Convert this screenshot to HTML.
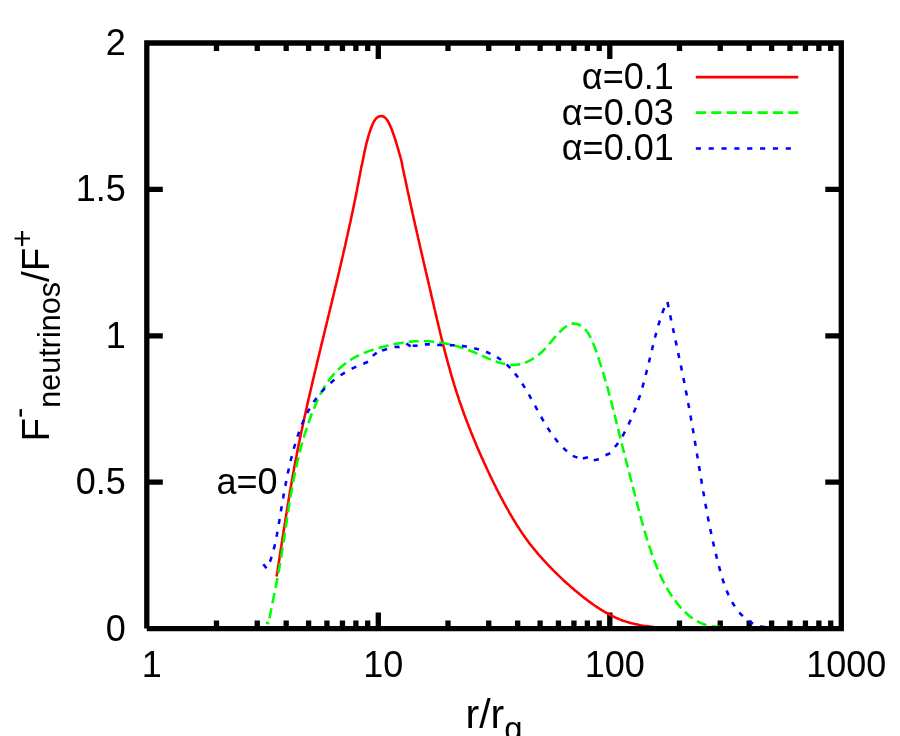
<!DOCTYPE html>
<html><head><meta charset="utf-8"><title>plot</title>
<style>html,body{margin:0;padding:0;background:#fff;}svg{display:block;will-change:transform;}text{font-family:"Liberation Sans",sans-serif;fill:#000;}</style></head><body>
<svg width="900" height="736" viewBox="0 0 900 736">
<rect width="900" height="736" fill="#fff"/>
<path d="M216.49,628.6v-8.0M216.49,43.0v8.0M257.25,628.6v-8.0M257.25,43.0v8.0M286.18,628.6v-8.0M286.18,43.0v8.0M308.61,628.6v-8.0M308.61,43.0v8.0M326.94,628.6v-8.0M326.94,43.0v8.0M342.44,628.6v-8.0M342.44,43.0v8.0M355.87,628.6v-8.0M355.87,43.0v8.0M367.71,628.6v-8.0M367.71,43.0v8.0M378.30,628.6v-16.0M378.30,43.0v16.0M447.99,628.6v-8.0M447.99,43.0v8.0M488.75,628.6v-8.0M488.75,43.0v8.0M517.68,628.6v-8.0M517.68,43.0v8.0M540.11,628.6v-8.0M540.11,43.0v8.0M558.44,628.6v-8.0M558.44,43.0v8.0M573.94,628.6v-8.0M573.94,43.0v8.0M587.37,628.6v-8.0M587.37,43.0v8.0M599.21,628.6v-8.0M599.21,43.0v8.0M609.80,628.6v-16.0M609.80,43.0v16.0M679.49,628.6v-8.0M679.49,43.0v8.0M720.25,628.6v-8.0M720.25,43.0v8.0M749.18,628.6v-8.0M749.18,43.0v8.0M771.61,628.6v-8.0M771.61,43.0v8.0M789.94,628.6v-8.0M789.94,43.0v8.0M805.44,628.6v-8.0M805.44,43.0v8.0M818.87,628.6v-8.0M818.87,43.0v8.0M830.71,628.6v-8.0M830.71,43.0v8.0M146.8,482.20h16.0M841.3,482.20h-16.0M146.8,335.80h16.0M841.3,335.80h-16.0M146.8,189.40h16.0M841.3,189.40h-16.0" stroke="#000" stroke-width="5.3" fill="none"/>
<g fill="none" stroke-width="2.57" stroke-linejoin="round">
<path d="M276.5,576.4 L276.8,575.0 L277.1,573.5 L277.3,572.0 L277.6,570.5 L277.8,569.0 L278.0,567.6 L278.3,566.1 L278.5,564.6 L278.7,563.1 L279.0,561.6 L279.2,560.1 L279.4,558.6 L279.6,557.1 L279.9,555.6 L280.1,554.1 L280.3,552.6 L280.6,551.1 L280.8,549.6 L281.0,548.2 L281.3,546.7 L281.5,545.2 L281.7,543.7 L281.9,542.2 L282.2,540.7 L282.4,539.2 L282.6,537.7 L282.9,536.3 L283.1,534.8 L283.3,533.3 L283.5,531.8 L283.8,530.3 L284.0,528.8 L284.2,527.3 L284.5,525.9 L284.7,524.4 L284.9,522.9 L285.2,521.4 L285.4,519.9 L285.6,518.4 L285.9,517.0 L286.1,515.5 L286.3,514.0 L286.6,512.5 L286.8,511.0 L287.1,509.6 L287.3,508.1 L287.5,506.6 L287.8,505.1 L288.0,503.6 L288.3,502.2 L288.5,500.7 L288.7,499.2 L289.0,497.7 L289.2,496.2 L289.5,494.8 L289.7,493.3 L290.0,491.8 L290.2,490.3 L290.5,488.9 L290.7,487.4 L291.0,485.9 L291.2,484.4 L291.5,483.0 L291.8,481.5 L292.0,480.0 L292.3,478.5 L292.5,477.1 L292.8,475.6 L293.1,474.1 L293.3,472.6 L293.6,471.2 L293.9,469.7 L294.1,468.2 L294.4,466.7 L294.7,465.3 L295.0,463.8 L295.2,462.3 L295.5,460.9 L295.8,459.4 L296.1,457.9 L296.4,456.4 L296.7,455.0 L296.9,453.5 L297.2,452.0 L297.5,450.6 L297.8,449.1 L298.1,447.6 L298.4,446.2 L298.7,444.7 L299.0,443.2 L299.3,441.8 L299.6,440.3 L299.9,438.8 L300.2,437.3 L300.5,435.9 L300.8,434.4 L301.1,432.9 L301.4,431.5 L301.8,430.0 L302.1,428.5 L302.4,427.1 L302.7,425.6 L303.0,424.1 L303.3,422.7 L303.6,421.2 L304.0,419.7 L304.3,418.3 L304.6,416.8 L304.9,415.4 L305.3,413.9 L305.6,412.4 L305.9,411.0 L306.2,409.5 L306.6,408.0 L306.9,406.6 L307.2,405.1 L307.5,403.6 L307.9,402.2 L308.2,400.7 L308.5,399.2 L308.9,397.8 L309.2,396.3 L309.6,394.9 L309.9,393.4 L310.2,391.9 L310.6,390.5 L310.9,389.0 L311.2,387.5 L311.6,386.1 L311.9,384.6 L312.3,383.2 L312.6,381.7 L313.0,380.2 L313.3,378.8 L313.6,377.3 L314.0,375.8 L314.3,374.4 L314.7,372.9 L315.0,371.5 L315.4,370.0 L315.7,368.5 L316.1,367.1 L316.4,365.6 L316.8,364.1 L317.1,362.7 L317.5,361.2 L317.8,359.8 L318.2,358.3 L318.5,356.8 L318.9,355.4 L319.2,353.9 L319.6,352.5 L319.9,351.0 L320.3,349.5 L320.6,348.1 L321.0,346.6 L321.3,345.2 L321.7,343.7 L322.1,342.2 L322.4,340.8 L322.8,339.3 L323.1,337.9 L323.5,336.4 L323.8,334.9 L324.2,333.5 L324.5,332.0 L324.9,330.6 L325.2,329.1 L325.6,327.6 L326.0,326.2 L326.3,324.7 L326.7,323.3 L327.0,321.8 L327.4,320.3 L327.7,318.9 L328.1,317.4 L328.4,315.9 L328.8,314.5 L329.1,313.0 L329.5,311.6 L329.9,310.1 L330.2,308.6 L330.6,307.2 L330.9,305.7 L331.3,304.3 L331.6,302.8 L332.0,301.3 L332.3,299.9 L332.7,298.4 L333.0,297.0 L333.4,295.5 L333.7,294.0 L334.1,292.6 L334.4,291.1 L334.8,289.7 L335.1,288.2 L335.5,286.7 L335.8,285.3 L336.2,283.8 L336.5,282.4 L336.9,280.9 L337.2,279.4 L337.6,278.0 L337.9,276.5 L338.3,275.0 L338.6,273.6 L339.0,272.1 L339.3,270.7 L339.6,269.2 L340.0,267.7 L340.3,266.3 L340.7,264.8 L341.0,263.3 L341.4,261.9 L341.7,260.4 L342.0,259.0 L342.4,257.5 L342.7,256.0 L343.1,254.6 L343.4,253.1 L343.7,251.6 L344.1,250.2 L344.4,248.7 L344.7,247.3 L345.1,245.8 L345.4,244.3 L345.7,242.9 L346.1,241.4 L346.4,239.9 L346.7,238.5 L347.0,237.0 L347.4,235.5 L347.7,234.1 L348.0,232.6 L348.3,231.1 L348.7,229.7 L349.0,228.2 L349.3,226.7 L349.6,225.3 L349.9,223.8 L350.3,222.3 L350.6,220.9 L350.9,219.4 L351.2,217.9 L351.5,216.5 L351.8,215.0 L352.1,213.5 L352.5,212.1 L352.8,210.6 L353.1,209.1 L353.4,207.7 L353.7,206.2 L354.0,204.7 L354.3,203.3 L354.6,201.8 L354.9,200.3 L355.2,198.9 L355.5,197.4 L355.8,195.9 L356.1,194.4 L356.4,193.0 L356.7,191.5 L357.0,190.0 L357.2,188.6 L357.5,187.1 L357.8,185.6 L358.1,184.1 L358.4,182.7 L358.7,181.2 L358.9,179.7 L359.2,178.3 L359.5,176.8 L359.8,175.3 L360.1,173.8 L360.3,172.4 L360.6,170.9 L360.9,169.4 L361.1,167.9 L361.4,166.5 L361.9,165.0 L362.2,163.5 L362.5,162.0 L362.8,160.5 L363.1,159.1 L363.4,157.6 L363.7,156.1 L364.0,154.6 L364.3,153.1 L364.6,151.6 L364.9,150.1 L365.2,148.7 L365.6,147.2 L365.9,145.7 L366.3,144.2 L366.6,142.8 L367.0,141.3 L367.4,139.8 L367.8,138.4 L368.2,136.9 L368.6,135.5 L369.1,134.0 L369.5,132.6 L370.0,131.1 L370.5,129.7 L371.0,128.3 L371.5,126.9 L372.1,125.4 L372.6,124.1 L373.3,122.7 L374.0,121.3 L374.9,120.0 L375.8,118.8 L376.9,117.7 L378.2,116.8 L379.6,116.3 L381.1,116.1 L382.5,116.3 L383.9,116.8 L385.1,117.7 L386.2,118.8 L387.1,120.0 L388.0,121.3 L388.7,122.6 L389.4,124.0 L390.0,125.4 L390.6,126.8 L391.2,128.2 L391.8,129.6 L392.3,131.0 L392.8,132.4 L393.3,133.9 L393.8,135.3 L394.3,136.7 L394.8,138.2 L395.3,139.6 L395.7,141.0 L396.2,142.5 L396.6,143.9 L397.0,145.4 L397.5,146.8 L397.9,148.3 L398.3,149.7 L398.7,151.2 L399.1,152.7 L399.6,154.1 L400.0,155.6 L400.4,157.0 L400.8,158.5 L401.3,160.2 L401.6,161.6 L401.9,163.1 L402.2,164.5 L402.4,166.0 L402.7,167.4 L403.0,168.9 L403.3,170.3 L403.6,171.8 L403.9,173.2 L404.2,174.7 L404.5,176.1 L404.8,177.6 L405.2,179.0 L405.5,180.5 L405.8,181.9 L406.1,183.4 L406.4,184.8 L406.7,186.3 L407.0,187.7 L407.3,189.2 L407.6,190.6 L407.9,192.1 L408.3,193.6 L408.6,195.0 L408.9,196.5 L409.2,197.9 L409.5,199.4 L409.8,200.9 L410.2,202.3 L410.5,203.8 L410.8,205.2 L411.1,206.7 L411.4,208.2 L411.8,209.6 L412.1,211.1 L412.4,212.6 L412.7,214.0 L413.1,215.5 L413.4,217.0 L413.7,218.4 L414.0,219.9 L414.4,221.3 L414.7,222.8 L415.0,224.3 L415.4,225.7 L415.7,227.2 L416.0,228.7 L416.4,230.2 L416.7,231.6 L417.0,233.1 L417.4,234.6 L417.7,236.0 L418.0,237.5 L418.4,239.0 L418.7,240.4 L419.0,241.9 L419.4,243.4 L419.7,244.8 L420.0,246.3 L420.4,247.8 L420.7,249.3 L421.1,250.7 L421.4,252.2 L421.7,253.7 L422.1,255.1 L422.4,256.6 L422.8,258.1 L423.1,259.6 L423.4,261.0 L423.8,262.5 L424.1,264.0 L424.5,265.4 L424.8,266.9 L425.1,268.4 L425.5,269.9 L425.8,271.3 L426.2,272.8 L426.5,274.3 L426.8,275.7 L427.2,277.2 L427.5,278.7 L427.9,280.2 L428.2,281.6 L428.6,283.1 L428.9,284.6 L429.2,286.0 L429.6,287.5 L429.9,289.0 L430.3,290.4 L430.6,291.9 L431.0,293.4 L431.3,294.9 L431.6,296.3 L432.0,297.8 L432.3,299.3 L432.7,300.7 L433.0,302.2 L433.4,303.7 L433.7,305.1 L434.0,306.6 L434.4,308.1 L434.7,309.5 L435.1,311.0 L435.4,312.5 L435.8,313.9 L436.1,315.4 L436.4,316.9 L436.8,318.3 L437.1,319.8 L437.5,321.3 L437.8,322.7 L438.2,324.2 L438.5,325.6 L438.9,327.1 L439.2,328.6 L439.6,330.0 L439.9,331.5 L440.3,332.9 L440.6,334.4 L441.0,335.9 L441.3,337.3 L441.7,338.8 L442.1,340.2 L442.4,341.7 L442.8,343.1 L443.1,344.6 L443.5,346.1 L443.9,347.5 L444.3,349.0 L444.6,350.4 L445.0,351.9 L445.4,353.3 L445.8,354.8 L446.1,356.2 L446.5,357.7 L446.9,359.1 L447.3,360.6 L447.7,362.0 L448.1,363.5 L448.5,364.9 L448.9,366.3 L449.3,367.8 L449.7,369.2 L450.1,370.7 L450.5,372.1 L450.9,373.6 L451.3,375.0 L451.7,376.4 L452.2,377.9 L452.6,379.3 L453.0,380.8 L453.5,382.2 L453.9,383.6 L454.3,385.1 L454.8,386.5 L455.2,387.9 L455.7,389.4 L456.1,390.8 L456.6,392.2 L457.0,393.6 L457.5,395.1 L458.0,396.5 L458.5,397.9 L458.9,399.3 L459.4,400.8 L459.9,402.2 L460.4,403.6 L460.9,405.0 L461.4,406.4 L461.9,407.9 L462.4,409.3 L462.9,410.7 L463.4,412.1 L463.9,413.5 L464.4,414.9 L465.0,416.3 L465.5,417.8 L466.0,419.2 L466.5,420.6 L467.1,422.0 L467.6,423.4 L468.2,424.8 L468.7,426.2 L469.2,427.6 L469.8,429.0 L470.4,430.4 L470.9,431.8 L471.5,433.2 L472.0,434.6 L472.6,436.0 L473.2,437.4 L473.7,438.7 L474.3,440.1 L474.9,441.5 L475.5,442.9 L476.1,444.3 L476.6,445.7 L477.2,447.1 L477.8,448.4 L478.4,449.8 L479.0,451.2 L479.6,452.6 L480.2,453.9 L480.8,455.3 L481.4,456.7 L482.0,458.1 L482.7,459.4 L483.3,460.8 L483.9,462.2 L484.5,463.5 L485.1,464.9 L485.8,466.2 L486.4,467.6 L487.0,469.0 L487.7,470.3 L488.3,471.7 L488.9,473.0 L489.6,474.4 L490.2,475.7 L490.9,477.1 L491.5,478.4 L492.2,479.8 L492.8,481.1 L493.5,482.5 L494.1,483.8 L494.8,485.1 L495.5,486.5 L496.1,487.8 L496.8,489.1 L497.5,490.5 L498.2,491.8 L498.8,493.1 L499.5,494.4 L500.2,495.8 L500.9,497.1 L501.6,498.4 L502.3,499.7 L503.0,501.0 L503.7,502.4 L504.4,503.7 L505.2,505.0 L505.9,506.3 L506.6,507.6 L507.3,508.9 L508.1,510.2 L508.8,511.5 L509.5,512.8 L510.3,514.1 L511.0,515.4 L511.8,516.7 L512.5,518.0 L513.3,519.2 L514.1,520.5 L514.9,521.8 L515.7,523.1 L516.4,524.3 L517.2,525.6 L518.0,526.9 L518.9,528.1 L519.7,529.4 L520.5,530.6 L521.3,531.9 L522.2,533.1 L523.0,534.4 L523.9,535.6 L524.8,536.9 L525.6,538.1 L526.5,539.3 L527.4,540.5 L528.3,541.7 L529.2,542.9 L530.1,544.2 L531.1,545.4 L532.0,546.5 L533.0,547.7 L533.9,548.9 L534.9,550.1 L535.9,551.3 L536.8,552.4 L537.8,553.6 L538.8,554.8 L539.8,555.9 L540.9,557.1 L541.9,558.2 L542.9,559.3 L543.9,560.5 L545.0,561.6 L546.0,562.7 L547.0,563.8 L548.1,564.9 L549.1,566.0 L550.2,567.1 L551.2,568.2 L552.3,569.2 L553.3,570.3 L554.4,571.4 L555.4,572.4 L556.5,573.5 L557.6,574.5 L558.6,575.6 L559.7,576.6 L560.8,577.6 L561.8,578.6 L562.9,579.7 L564.0,580.7 L565.1,581.7 L566.2,582.7 L567.3,583.7 L568.4,584.6 L569.5,585.6 L570.6,586.6 L571.7,587.6 L572.9,588.5 L574.0,589.5 L575.1,590.5 L576.3,591.4 L577.4,592.4 L578.6,593.3 L579.7,594.3 L580.9,595.2 L582.1,596.1 L583.2,597.1 L584.4,598.0 L585.6,598.9 L586.8,599.8 L588.0,600.7 L589.2,601.6 L590.5,602.5 L591.7,603.4 L592.9,604.3 L594.2,605.2 L595.4,606.0 L596.7,606.9 L597.9,607.7 L599.2,608.5 L600.5,609.4 L601.8,610.2 L603.0,610.9 L604.3,611.7 L605.6,612.5 L607.0,613.2 L608.3,613.9 L609.6,614.6 L610.9,615.3 L612.3,616.0 L613.6,616.7 L615.0,617.3 L616.3,617.9 L617.7,618.5 L619.1,619.1 L620.4,619.6 L621.8,620.2 L623.2,620.7 L624.6,621.1 L626.0,621.6 L627.5,622.1 L628.9,622.5 L630.3,622.9 L631.7,623.3 L633.2,623.6 L634.6,624.0 L636.1,624.3 L637.6,624.6 L639.0,624.9 L640.5,625.2 L642.0,625.4 L643.5,625.7 L645.0,625.9 L646.5,626.1 L648.0,626.3 L649.6,626.5 L651.1,626.7 L652.6,626.8 L654.0,627.4" stroke="#f00"/>
<g stroke="#0f0">
<path d="M266.0,622.6 L268.7,623.3 L268.8,621.6 L269.1,620.1 L269.4,618.7 L269.7,617.3 L269.9,615.8 L270.2,614.4 L270.5,612.9 L270.8,611.5 L271.1,610.0 L271.4,608.6 L271.7,607.1 L271.9,605.7 L272.2,604.2 L272.5,602.8 L272.8,601.3 L273.1,599.8 L273.4,598.4 L273.7,596.9 L274.0,595.4 L274.3,594.0 L274.6,592.5 L274.9,591.0 L275.2,589.6 L275.5,588.1 L275.8,586.6 L276.1,585.2 L276.3,583.7 L276.6,582.2 L276.9,580.7 L277.2,579.3 L277.5,577.8 L277.8,576.3 L278.0,574.8 L278.3,573.3 L278.6,571.9 L278.9,570.4 L279.1,568.9 L279.4,567.4 L279.7,565.9 L279.9,564.4 L280.2,562.9 L280.4,561.5 L280.6,560.3" stroke-dasharray="10.300 5.100" stroke-dashoffset="7.500"/>
<path d="M280.6,560.3 L280.7,560.0 L280.9,558.5 L281.2,557.0 L281.4,555.5 L281.6,554.0 L281.9,552.5 L282.1,551.0 L282.4,549.5 L282.6,548.1 L282.8,546.6 L283.1,545.1 L283.3,543.6 L283.5,542.1 L283.7,540.6 L284.0,539.1 L284.2,537.6 L284.4,536.1 L284.6,534.6 L284.9,533.1 L285.1,531.6 L285.3,530.1 L285.5,528.6 L285.8,527.1 L286.0,525.7 L286.2,524.2 L286.4,522.7 L286.7,521.2 L286.9,519.7 L287.1,518.2 L287.3,516.7 L287.6,515.2 L287.8,513.7 L288.0,512.2 L288.3,510.7 L288.5,509.2 L288.7,507.8 L289.0,506.3 L289.2,504.8 L289.4,503.3 L289.7,501.8 L289.9,500.3 L290.2,498.8 L290.4,497.3 L290.7,495.9 L290.9,494.4 L291.2,492.9 L291.5,491.4 L291.7,489.9 L292.0,488.4 L292.2,487.0 L292.5,485.5 L292.8,484.0 L293.1,482.5 L293.4,481.1 L293.6,479.6 L293.9,478.1 L294.2,476.6 L294.5,475.2 L294.8,473.7 L295.1,472.2 L295.4,470.8 L295.7,469.3 L296.0,467.8 L296.4,466.4 L296.7,464.9 L297.0,463.4 L297.3,462.0 L297.7,460.5 L298.0,459.1 L298.4,457.6 L298.7,456.2 L299.1,454.7 L299.4,453.2 L299.8,451.8 L300.2,450.4 L300.6,448.9 L300.9,447.5 L301.3,446.0 L301.7,444.6 L302.1,443.1 L302.5,441.7 L302.9,440.3 L303.3,438.8 L303.8,437.4 L304.2,436.0 L304.6,434.6 L305.1,433.1 L305.5,431.7 L306.0,430.3 L306.4,428.9 L306.9,427.5 L307.4,426.0 L307.9,424.6 L308.4,423.2 L308.9,421.8 L309.4,420.4 L309.9,419.0 L310.4,417.6 L310.9,416.2 L311.4,414.8 L312.0,413.4 L312.5,412.0 L313.1,410.7 L313.6,409.3 L314.2,407.9 L314.8,406.5 L315.4,405.1 L316.0,403.8 L316.6,402.4 L317.2,401.0 L317.8,399.7 L318.5,398.3 L319.1,397.0" stroke-dasharray="10.237 5.069" stroke-dashoffset="-2.534"/>
<path d="M319.1,397.0 L319.1,396.9 L319.8,395.6 L320.4,394.3 L321.1,392.9 L321.8,391.6 L322.6,390.3 L323.3,389.0 L324.0,387.7 L324.8,386.4 L325.6,385.1 L326.4,383.9 L327.3,382.6 L328.1,381.4 L329.0,380.1 L329.9,378.9 L330.8,377.7 L331.8,376.6 L332.8,375.4 L333.8,374.2 L334.8,373.1 L335.8,372.0 L336.9,370.9 L338.0,369.8 L339.1,368.8 L340.3,367.7 L341.4,366.7 L342.6,365.7 L343.8,364.8 L345.0,363.8 L346.2,362.9 L347.5,362.0 L348.7,361.1 L350.0,360.3 L351.3,359.5 L352.6,358.7 L353.9,357.9 L355.2,357.2 L356.5,356.5 L357.8,355.8 L359.2,355.1 L360.5,354.5 L361.5,354.0" stroke-dasharray="10.322 5.111" stroke-dashoffset="-2.555"/>
<path d="M361.5,354.0 L361.9,353.9 L363.2,353.3 L364.6,352.7 L366.0,352.2 L367.4,351.6 L368.8,351.1 L370.2,350.6 L371.6,350.2 L373.0,349.7 L374.4,349.3 L375.9,348.8 L377.3,348.4 L378.8,348.0 L380.2,347.6 L381.6,347.2 L383.1,346.8 L384.6,346.4 L386.0,346.1 L387.5,345.7 L389.0,345.4 L390.4,345.0 L391.9,344.7 L393.4,344.4 L394.9,344.1 L396.4,343.8 L397.8,343.5 L399.3,343.2 L400.8,343.0 L402.3,342.7 L403.8,342.5 L405.3,342.3 L406.1,342.2" stroke-dasharray="10.331 5.115" stroke-dashoffset="-2.558"/>
<path d="M406.1,342.2 L406.8,342.1 L408.3,341.9 L409.8,341.8 L411.3,341.6 L412.8,341.5 L414.3,341.4 L415.7,341.3 L417.2,341.2 L418.7,341.2 L420.2,341.1 L421.7,341.1 L423.2,341.1 L424.7,341.2 L426.1,341.2 L427.6,341.3 L429.1,341.4 L430.6,341.4 L432.1,341.6 L433.5,341.7 L435.0,341.9 L436.5,342.0 L437.9,342.2 L439.4,342.4 L440.9,342.6 L442.4,342.9 L443.8,343.1 L445.3,343.4 L446.7,343.7 L448.2,344.0 L449.7,344.3 L451.1,344.7 L451.7,344.8" stroke-dasharray="10.236 5.068" stroke-dashoffset="-2.534"/>
<path d="M451.7,344.8 L452.6,345.0 L454.0,345.4 L455.5,345.8 L456.9,346.2 L458.4,346.6 L459.8,347.1 L461.3,347.5 L462.7,348.0 L464.2,348.5 L465.6,349.0 L467.0,349.5 L468.5,350.0 L469.9,350.6 L471.3,351.2 L472.8,351.7 L474.2,352.3 L475.6,352.9 L477.0,353.6 L478.5,354.2 L479.9,354.8 L481.3,355.4 L482.7,356.1 L484.2,356.7 L485.6,357.3 L487.0,357.9 L488.4,358.6 L489.8,359.1 L491.2,359.7 L492.6,360.3 L493.3,360.5" stroke-dasharray="9.931 4.917" stroke-dashoffset="-2.459"/>
<path d="M493.3,360.5 L494.1,360.8 L495.5,361.3 L496.9,361.8 L498.3,362.3 L499.7,362.7 L501.1,363.1 L502.5,363.5 L504.0,363.8 L505.4,364.1 L506.8,364.4 L508.2,364.6 L509.6,364.7 L511.0,364.8 L512.5,364.9 L513.9,364.9 L515.3,364.8 L516.7,364.7 L518.1,364.5 L519.6,364.2 L521.0,363.9 L522.4,363.5 L523.8,363.1 L525.3,362.6 L526.7,362.0 L528.1,361.4 L529.5,360.7 L530.8,360.0 L532.2,359.2 L533.5,358.4 L534.8,357.6 L536.0,356.8" stroke-dasharray="10.052 4.977" stroke-dashoffset="-2.489"/>
<path d="M536.0,356.8 L536.1,356.7 L537.4,355.8 L538.6,354.8 L539.8,353.8 L541.0,352.8 L542.1,351.8 L543.2,350.7 L544.3,349.6 L545.3,348.5 L546.3,347.4 L547.3,346.3 L548.3,345.2 L549.2,344.0 L550.2,342.9 L551.1,341.7 L552.0,340.6 L553.0,339.5 L553.9,338.3 L554.9,337.2 L555.8,336.1 L556.8,335.0 L557.6,334.1" stroke-dasharray="10.515 5.207" stroke-dashoffset="-2.603"/>
<path d="M557.6,334.1 L557.8,333.9 L558.9,332.8 L560.0,331.7 L561.1,330.7 L562.2,329.6 L563.4,328.6 L564.7,327.6 L565.9,326.7 L567.3,325.8 L568.6,325.1 L570.0,324.4 L571.4,324.0 L572.8,323.6 L574.2,323.5 L575.7,323.7 L577.1,324.0 L578.5,324.5 L579.8,325.1 L581.1,325.9 L582.3,326.7 L583.1,327.4" stroke-dasharray="10.023 4.963" stroke-dashoffset="-2.481"/>
<path d="M583.1,327.4 L583.4,327.6 L584.5,328.6 L585.5,329.7 L586.4,330.8 L587.3,332.0 L588.2,333.2 L589.0,334.5 L589.7,335.8 L590.4,337.1 L591.1,338.5 L591.7,339.9 L592.4,341.4 L592.9,342.8 L593.5,344.3 L594.1,345.7 L594.6,347.2 L595.1,348.6 L595.7,350.1 L596.2,351.5 L596.7,353.0 L597.2,354.4 L597.7,355.9 L598.2,357.3 L598.7,358.7 L599.2,360.1 L599.6,361.6 L600.1,363.0 L600.6,364.4 L601.0,365.8 L601.5,367.3 L601.9,368.7 L602.2,369.6" stroke-dasharray="10.457 5.178" stroke-dashoffset="-2.589"/>
<path d="M602.2,369.6 L602.4,370.1 L602.8,371.5 L603.2,372.9 L603.7,374.4 L604.1,375.8 L604.5,377.2 L604.9,378.6 L605.3,380.1 L605.7,381.5 L606.2,382.9 L606.6,384.4 L607.0,385.8 L607.4,387.2 L607.8,388.7 L608.2,390.1 L608.5,391.6 L608.9,393.0 L609.3,394.5 L609.7,395.9 L610.1,397.4 L610.5,398.8 L610.8,400.3 L611.2,401.7 L611.6,403.2 L612.0,404.6 L612.3,406.1 L612.7,407.5 L613.1,409.0 L613.5,410.4 L613.8,411.9 L614.2,413.4 L614.6,414.8 L614.9,416.3 L615.3,417.7 L615.7,419.2 L616.0,420.7 L616.4,422.1 L616.7,423.6 L617.1,425.0 L617.5,426.5 L617.8,428.0 L618.2,429.4 L618.6,430.9 L618.9,432.4 L619.3,433.8 L619.7,435.3 L620.0,436.7 L620.4,438.2 L620.8,439.7 L621.1,440.9" stroke-dasharray="9.864 4.884" stroke-dashoffset="-2.442"/>
<path d="M621.1,440.9 L621.1,441.1 L621.5,442.6 L621.9,444.1 L622.2,445.5 L622.6,447.0 L623.0,448.4 L623.3,449.9 L623.7,451.4 L624.1,452.8 L624.4,454.3 L624.8,455.7 L625.2,457.2 L625.6,458.6 L625.9,460.1 L626.3,461.6 L626.7,463.0 L627.1,464.5 L627.4,465.9 L627.8,467.4 L628.2,468.9 L628.6,470.3 L628.9,471.8 L629.3,473.2 L629.7,474.7 L630.1,476.1 L630.4,477.6 L630.8,479.0 L631.2,480.5 L631.5,481.9 L631.9,483.4 L632.3,484.9 L632.7,486.3 L633.0,487.8 L633.4,489.2 L633.8,490.7 L634.2,492.1 L634.5,493.6 L634.9,495.0 L635.3,496.5 L635.7,497.9 L636.0,499.4 L636.4,500.8 L636.8,502.3 L637.1,503.7 L637.5,505.2 L637.9,506.6 L638.3,508.0 L638.7,509.5 L639.0,510.9 L639.4,512.4 L639.7,513.4" stroke-dasharray="10.015 4.959" stroke-dashoffset="-2.480"/>
<path d="M639.7,513.4 L639.8,513.8 L640.2,515.3 L640.6,516.7 L641.0,518.2 L641.4,519.6 L641.8,521.0 L642.2,522.5 L642.6,523.9 L643.0,525.4 L643.4,526.8 L643.8,528.3 L644.2,529.7 L644.6,531.1 L645.1,532.6 L645.5,534.0 L645.9,535.4 L646.4,536.9 L646.8,538.3 L647.2,539.8 L647.7,541.2 L648.1,542.6 L648.6,544.1 L649.1,545.5 L649.5,546.9 L650.0,548.4 L650.5,549.8 L651.0,551.2 L651.4,552.7 L651.9,554.1 L652.4,555.5 L653.0,556.9 L653.5,558.4 L654.0,559.8 L654.5,561.2 L655.1,562.6 L655.6,564.0 L656.2,565.5 L656.7,566.9 L657.3,568.3 L657.9,569.7 L658.5,571.1 L659.1,572.4 L659.7,573.8 L660.3,575.2 L660.9,576.6 L661.6,577.9 L662.2,579.3 L662.9,580.7 L663.6,582.0 L664.3,583.3 L665.0,584.7 L665.5,585.6" stroke-dasharray="10.275 5.088" stroke-dashoffset="-2.544"/>
<path d="M665.5,585.6 L665.7,586.0 L666.4,587.3 L667.2,588.6 L667.9,589.9 L668.7,591.2 L669.5,592.5 L670.3,593.7 L671.1,595.0 L671.9,596.2 L672.8,597.5 L673.6,598.7 L674.5,599.9 L675.4,601.1 L676.3,602.3 L677.2,603.4 L678.2,604.6 L679.1,605.8 L680.1,606.9 L681.1,608.0 L682.1,609.1 L683.1,610.2 L684.2,611.2 L685.3,612.3 L686.4,613.3 L687.5,614.3 L688.6,615.3 L689.7,616.2 L690.9,617.1 L692.1,618.0 L693.3,618.8 L694.6,619.6 L694.8,619.8" stroke-dasharray="10.144 5.023" stroke-dashoffset="-2.511"/>
<path d="M694.8,619.8 L695.8,620.4 L697.1,621.1 L698.4,621.8 L699.7,622.5 L701.1,623.1 L702.4,623.7 L703.8,624.2 L705.3,624.7 L706.7,625.1 L708.2,625.5 L709.7,625.8 L711.2,626.1 L712.7,626.4 L714.3,626.5 L715.9,626.6 L717.5,626.7 L719.1,626.7 L720.5,627.0" stroke-dasharray="10.300 5.100" stroke-dashoffset="-2.550"/>
</g>
<g stroke="#00f">
<path d="M263.3,564.2 L266.7,568.4 L267.7,567.1 L268.3,565.7 L268.9,564.3 L269.4,562.9 L270.0,561.5 L270.5,560.1 L271.0,558.7 L271.4,557.3 L271.9,555.9 L272.3,554.4 L272.7,553.0 L273.1,551.6 L273.5,550.2 L273.9,548.7 L274.2,547.3 L274.6,545.8 L274.9,544.4 L275.2,543.0 L275.5,541.5 L275.8,540.1 L276.1,538.6 L276.4,537.1 L276.7,535.7 L277.0,534.2 L277.2,532.8 L277.5,531.3 L277.8,529.8 L278.0,528.4 L278.3,526.9 L278.5,525.4 L278.8,523.9 L279.0,522.5 L279.3,521.0 L279.5,519.5 L279.8,518.0 L280.0,516.5 L280.3,515.1 L280.5,513.6 L280.8,512.1 L281.0,510.6 L281.3,509.1 L281.5,507.6 L281.8,506.1 L282.0,504.6 L282.3,503.2 L282.5,501.7 L282.8,500.2 L283.0,498.7 L283.3,497.2 L283.5,495.7 L283.8,494.2 L284.1,492.7 L284.3,491.2 L284.6,489.7 L284.6,489.7" stroke-dasharray="5.163 7.745" stroke-dashoffset="0.000"/>
<path d="M284.6,489.7 L284.9,488.2 L285.2,486.7 L285.5,485.2 L285.7,483.8 L286.0,482.3 L286.3,480.8 L286.6,479.3 L286.9,477.8 L287.2,476.3 L287.5,474.8 L287.8,473.3 L288.1,471.8 L288.5,470.4 L288.8,468.9 L289.1,467.4 L289.5,465.9 L289.8,464.4 L290.1,463.0 L290.5,461.5 L290.8,460.0 L291.2,458.5 L291.6,457.1 L292.0,455.6 L292.3,454.1 L292.7,452.7 L293.1,451.2 L293.5,449.8 L293.9,448.3 L294.3,446.9 L294.8,445.4 L295.2,444.0 L295.6,442.5 L296.1,441.1 L296.5,439.6 L297.0,438.2 L297.4,436.8 L297.9,435.3 L298.4,433.9 L298.9,432.5 L299.4,431.1 L299.9,429.7 L300.4,428.3 L301.0,426.9 L301.5,425.5 L302.1,424.1 L302.7,422.7 L303.3,421.4 L303.9,420.0 L304.5,418.7 L305.1,417.3 L305.7,416.0 L306.4,414.7 L307.1,413.3 L307.7,412.0 L308.4,410.7 L309.2,409.4 L309.9,408.2 L310.6,406.9 L311.4,405.6 L311.6,405.3" stroke-dasharray="5.093 7.639" stroke-dashoffset="-3.819"/>
<path d="M311.6,405.3 L312.2,404.4 L313.0,403.1 L313.8,401.9 L314.6,400.7 L315.5,399.5 L316.3,398.3 L317.2,397.1 L318.1,395.9 L319.0,394.8 L320.0,393.6 L321.0,392.5 L321.9,391.4 L323.0,390.3 L324.0,389.2 L325.0,388.1 L326.1,387.0 L327.2,386.0 L328.3,385.0 L329.4,383.9 L330.6,382.9 L331.7,382.0 L332.9,381.0 L334.1,380.0 L335.3,379.1 L336.5,378.2 L337.7,377.3 L339.0,376.4 L340.3,375.5 L341.5,374.7 L342.8,373.9 L344.1,373.1 L345.4,372.3 L346.7,371.5 L348.1,370.7 L348.3,370.6" stroke-dasharray="5.099 7.648" stroke-dashoffset="-3.824"/>
<path d="M348.3,370.6 L349.4,370.0 L350.8,369.3 L352.1,368.6 L353.5,367.9 L354.8,367.3 L356.2,366.6 L357.6,366.0 L359.0,365.4 L360.4,364.9 L361.8,364.3 L363.1,363.9 L368.1,361.7 L370.4,358.8" stroke-dasharray="5.094 7.640" stroke-dashoffset="-3.820"/>
<path d="M370.4,358.8 L372.5,356.1 L376.9,352.5 L378.6,351.0 L378.9,352.3" stroke-dasharray="5.078 7.617" stroke-dashoffset="-3.809"/>
<path d="M378.9,352.3 L379.0,352.6 L382.2,350.4 L387.2,348.9 L390.9,347.9" stroke-dasharray="5.307 7.960" stroke-dashoffset="-3.980"/>
<path d="M390.9,347.9 L393.9,347.1 L399.4,346.9 L402.8,345.1" stroke-dasharray="4.975 7.462" stroke-dashoffset="-3.731"/>
<path d="M402.8,345.1 L406.0,343.3 L411.1,346.7 L413.6,348.3 L413.3,347.9" stroke-dasharray="5.312 7.968" stroke-dashoffset="-3.984"/>
<path d="M413.3,347.9 L411.7,345.7 L418.0,345.7 L419.5,345.2 L421.0,344.9 L421.2,344.9" stroke-dasharray="4.922 7.384" stroke-dashoffset="-3.692"/>
<path d="M421.2,344.9 L422.4,344.7 L423.9,344.5 L425.3,344.4 L426.8,344.4 L428.3,344.4 L429.7,344.4 L431.2,344.5 L432.7,344.6 L433.5,344.6" stroke-dasharray="4.954 7.431" stroke-dashoffset="-3.715"/>
<path d="M433.5,344.6 L434.2,344.7 L435.7,344.8 L437.2,344.9 L438.7,345.0 L440.2,345.0 L441.8,345.1 L443.3,345.1 L444.8,345.1 L446.3,345.1 L447.9,345.1 L449.4,345.1 L450.9,345.1 L452.5,345.2 L454.0,345.2 L455.5,345.3 L457.0,345.4 L458.6,345.6 L460.1,345.7 L461.6,345.9 L463.1,346.1 L464.6,346.3 L466.1,346.6 L467.6,346.9 L469.1,347.1 L470.6,347.4 L472.1,347.8 L473.6,348.1 L475.0,348.5 L476.5,348.8 L477.9,349.2 L479.4,349.6 L480.8,350.1 L482.2,350.5 L482.5,350.6" stroke-dasharray="4.962 7.443" stroke-dashoffset="-3.721"/>
<path d="M482.5,350.6 L483.6,351.0 L485.0,351.5 L486.4,352.0 L487.8,352.5 L489.1,353.1 L490.5,353.7 L491.8,354.3 L493.1,354.9 L494.4,355.6 L495.7,356.3 L497.0,357.1 L498.2,357.9 L499.4,358.7 L500.6,359.5 L501.8,360.4 L503.0,361.4 L504.2,362.3 L505.3,363.3 L506.4,364.3 L507.5,365.3 L508.6,366.4 L509.7,367.5 L510.7,368.6 L511.7,369.7 L512.7,370.9 L513.7,372.0 L514.7,373.2 L515.6,374.4 L516.6,375.6 L517.5,376.8 L518.4,378.0 L519.3,379.3 L520.1,380.5" stroke-dasharray="4.903 7.355" stroke-dashoffset="-3.678"/>
<path d="M520.1,380.5 L520.2,380.5 L521.0,381.8 L521.8,383.0 L522.7,384.3 L523.5,385.6 L524.3,386.8 L525.1,388.1 L525.9,389.4 L526.6,390.7 L527.4,392.0 L528.2,393.3 L528.9,394.6 L529.7,395.9 L530.4,397.3 L531.1,398.6 L531.9,399.9 L532.6,401.2 L533.3,402.5 L534.0,403.9 L534.7,405.2 L535.5,406.5 L536.2,407.8 L536.9,409.2 L537.6,410.5 L538.3,411.8 L539.1,413.1 L539.8,414.5 L540.5,415.8 L541.3,417.1 L542.0,418.4 L542.7,419.7 L543.5,421.0 L544.3,422.3 L545.0,423.6 L545.8,424.9 L546.6,426.1 L547.4,427.4 L548.2,428.7 L549.0,429.9 L549.8,431.2 L550.7,432.4 L551.5,433.6 L552.4,434.8 L553.3,436.0 L554.2,437.2 L555.1,438.4 L556.0,439.6 L556.9,440.8 L557.9,441.9 L558.9,443.0 L559.9,444.2 L560.7,445.1" stroke-dasharray="5.093 7.639" stroke-dashoffset="-3.819"/>
<path d="M560.7,445.1 L560.9,445.3 L561.9,446.4 L563.0,447.5 L564.0,448.5 L565.1,449.6 L566.2,450.6 L567.4,451.6 L568.5,452.6 L569.7,453.6 L570.9,454.6 L571.9,455.6 L577.8,457.8 L580.6,459.5" stroke-dasharray="5.007 7.511" stroke-dashoffset="-3.755"/>
<path d="M580.6,459.5 L582.2,460.5 L582.8,458.6 L588.3,457.2 L590.9,456.5 L591.4,457.3" stroke-dasharray="5.257 7.886" stroke-dashoffset="-3.943"/>
<path d="M591.4,457.3 L593.6,460.3 L599.2,459.2 L602.2,457.3" stroke-dasharray="5.203 7.804" stroke-dashoffset="-3.902"/>
<path d="M602.2,457.3 L605.3,455.3 L610.6,453.1 L611.2,452.0 L612.0,450.8 L612.5,450.2" stroke-dasharray="5.163 7.744" stroke-dashoffset="-3.872"/>
<path d="M612.5,450.2 L612.9,449.5 L613.9,448.3 L614.9,447.1 L615.9,445.8 L616.9,444.6 L617.9,443.3 L618.8,442.1 L619.7,440.8 L620.5,439.5 L621.3,438.2 L622.1,436.9 L622.8,435.6 L623.5,434.3 L624.2,433.0 L624.9,431.7 L625.6,430.4 L626.3,429.0 L626.9,427.7 L627.6,426.4 L628.3,425.0 L628.9,423.7 L629.5,422.3 L630.2,420.9 L630.8,419.6 L631.4,418.2 L632.0,416.8 L632.6,415.4 L633.2,414.1 L633.7,412.7 L634.3,411.3 L634.8,409.9 L635.4,408.5 L635.9,407.1 L636.4,405.6 L637.0,404.2 L637.5,402.8 L638.0,401.4 L638.4,400.0 L638.9,398.5 L639.4,397.1 L639.9,395.7 L640.3,394.2 L640.8,392.8 L641.2,391.3 L641.6,389.9 L642.1,388.4 L642.5,387.0 L642.9,385.5 L643.3,384.1 L643.7,382.6 L644.1,381.2 L644.5,379.7 L644.8,378.6" stroke-dasharray="5.272 7.908" stroke-dashoffset="-3.954"/>
<path d="M644.8,378.6 L644.9,378.2 L645.3,376.8 L645.7,375.3 L646.0,373.8 L646.4,372.4 L646.8,370.9 L647.2,369.4 L647.5,368.0 L647.9,366.5 L648.2,365.0 L648.6,363.5 L649.0,362.1 L649.3,360.6 L649.7,359.1 L650.0,357.6 L650.4,356.2 L650.7,354.7 L651.1,353.2 L651.4,351.7 L651.8,350.3 L652.2,348.8 L652.5,347.3 L652.9,345.8 L653.2,344.4 L653.6,342.9 L654.0,341.4 L654.3,340.0 L654.7,338.5 L655.1,337.0 L655.5,335.6 L655.9,334.1 L656.3,332.7 L656.7,331.2 L657.1,329.8 L657.5,328.3 L657.9,326.8 L658.3,325.4 L658.8,324.0 L659.2,322.5 L659.6,321.1 L660.1,319.6 L660.6,318.2 L661.0,316.9" stroke-dasharray="5.109 7.663" stroke-dashoffset="-3.832"/>
<path d="M661.0,316.9 L661.0,316.8 L661.5,315.4 L662.0,313.9 L662.5,312.5 L663.0,311.1 L663.5,309.7 L664.1,308.3 L664.6,306.9 L665.2,305.5 L665.7,304.1 L666.3,302.7 L667.0,301.3 L667.6,302.8 L667.9,304.2 L668.2,305.7 L668.5,307.2 L668.8,308.6 L669.1,310.1 L669.4,311.5 L669.7,313.0 L670.0,314.4 L670.3,315.9 L670.6,317.4 L670.9,318.8 L671.2,320.3 L671.5,321.8 L671.9,323.2 L672.1,324.4" stroke-dasharray="5.390 8.086" stroke-dashoffset="-4.043"/>
<path d="M672.1,324.4 L672.2,324.7 L672.5,326.1 L672.8,327.6 L673.1,329.1 L673.4,330.5 L673.7,332.0 L674.0,333.5 L674.4,334.9 L674.7,336.4 L675.0,337.9 L675.3,339.3 L675.6,340.8 L675.9,342.3 L676.2,343.7 L676.6,345.2 L676.9,346.7 L677.2,348.1 L677.5,349.6 L677.8,351.1 L678.1,352.6 L678.4,354.0 L678.7,355.5 L679.0,357.0 L679.4,358.4 L679.7,359.9 L680.0,361.4 L680.3,362.9 L680.6,364.3 L680.9,365.8 L681.2,367.3 L681.5,368.8 L681.8,370.2 L682.1,371.7 L682.4,373.2 L682.7,374.7 L683.0,376.1 L683.3,377.6 L683.6,379.1 L683.9,380.6 L684.2,382.0 L684.5,383.5 L684.8,385.0 L685.1,386.5 L685.4,387.9 L685.7,389.4 L685.9,390.9 L686.2,392.4 L686.5,393.8 L686.8,395.3 L687.1,396.8 L687.3,398.3 L687.6,399.8 L687.9,401.2 L688.2,402.7 L688.4,404.2 L688.7,405.7 L689.0,407.2 L689.2,408.6 L689.5,410.1 L689.8,411.6 L689.8,411.8" stroke-dasharray="5.093 7.640" stroke-dashoffset="-3.820"/>
<path d="M689.8,411.8 L690.0,413.1 L690.3,414.6 L690.6,416.0 L690.8,417.5 L691.1,419.0 L691.3,420.5 L691.6,421.9 L691.9,423.4 L692.1,424.9 L692.4,426.4 L692.6,427.9 L692.9,429.3 L693.1,430.8 L693.4,432.3 L693.6,433.8 L693.9,435.3 L694.1,436.7 L694.4,438.2 L694.6,439.7 L694.9,441.2 L695.1,442.7 L695.4,444.1 L695.6,445.6 L695.8,447.1 L696.1,448.6 L696.3,450.1 L696.6,451.5 L696.8,453.0 L697.1,454.5 L697.3,456.0 L697.6,457.4 L697.8,458.9 L698.1,460.4 L698.3,461.9 L698.5,463.4 L698.8,464.8 L699.0,466.3 L699.3,467.8 L699.5,469.3 L699.8,470.7 L700.0,472.2 L700.3,473.7 L700.5,475.2 L700.7,476.7 L701.0,478.1 L701.2,479.6 L701.5,481.1 L701.7,482.6 L702.0,484.0 L702.2,485.5 L702.5,487.0 L702.7,488.5 L703.0,489.9 L703.2,491.4 L703.5,492.9 L703.8,494.3 L704.0,495.8 L704.3,497.3 L704.5,498.8 L704.8,500.2 L705.1,501.7 L705.3,503.2 L705.6,504.7 L705.8,506.1 L706.1,507.6 L706.4,509.1 L706.7,510.5 L706.9,512.0 L707.2,513.5 L707.5,515.0 L707.8,516.4 L708.0,517.9 L708.3,519.4 L708.6,520.8 L708.9,522.3 L709.2,523.8 L709.5,525.2" stroke-dasharray="5.117 7.675" stroke-dashoffset="-3.838"/>
<path d="M709.5,525.2 L709.5,525.3 L709.8,526.7 L710.1,528.2 L710.4,529.7 L710.7,531.1 L711.0,532.6 L711.3,534.1 L711.6,535.5 L711.9,537.0 L712.3,538.5 L712.6,540.0 L712.9,541.4 L713.2,542.9 L713.6,544.4 L713.9,545.8 L714.2,547.3 L714.6,548.8 L714.9,550.2 L715.3,551.7 L715.6,553.2 L716.0,554.7 L716.4,556.1 L716.7,557.6 L717.1,559.1 L717.5,560.5 L717.8,562.0 L718.2,563.5 L718.6,565.0 L719.0,566.4 L719.4,567.9 L719.8,569.4 L720.2,570.8 L720.6,572.3 L721.0,573.8 L721.5,575.2 L721.9,576.7 L722.3,578.2 L722.8,579.6 L723.2,581.1 L723.7,582.5 L724.2,583.9 L724.7,585.4 L725.2,586.8 L725.7,588.2 L726.3,589.6 L726.8,591.0 L727.4,592.4 L728.0,593.7 L728.6,595.1 L729.2,596.4 L729.9,597.8 L730.3,598.7" stroke-dasharray="5.102 7.653" stroke-dashoffset="-3.827"/>
<path d="M730.3,598.7 L730.5,599.1 L731.2,600.4 L731.9,601.7 L732.6,603.0 L733.4,604.2 L734.2,605.4 L735.0,606.7 L735.8,607.9 L736.7,609.0 L737.5,610.2 L738.4,611.3 L739.4,612.5 L740.3,613.6 L741.3,614.6 L742.4,615.7 L743.4,616.7 L744.5,617.7 L745.6,618.6 L746.8,619.6 L748.0,620.4 L749.2,621.3 L750.4,622.1 L751.7,622.8 L753.0,623.5 L754.4,624.2 L755.7,624.8 L756.5,625.1" stroke-dasharray="5.077 7.615" stroke-dashoffset="-3.808"/>
<path d="M756.5,625.1 L757.2,625.3 L758.6,625.8 L760.1,626.2 L761.6,626.6 L763.1,626.8 L764.7,627.1 L766.3,627.2 L768.0,627.3 L769.7,627.3 L771.0,627.6" stroke-dasharray="5.140 7.710" stroke-dashoffset="-3.855"/>
</g>
<path d="M695.8,77.1H798.3" stroke="#f00"/>
<path d="M695.8,112.6H798.3" stroke="#0f0" stroke-dasharray="10.3 5.1"/>
<path d="M695.8,148.5H798.3" stroke="#00f" stroke-dasharray="5.14 7.71"/>
</g>
<path d="M146.8,628.6V43.0H841.3V628.6H146.8" fill="none" stroke="#000" stroke-width="5.3" stroke-linejoin="miter" stroke-linecap="butt"/>
<text x="105.78" y="640.60" font-size="36">0</text>
<text x="75.76" y="494.20" font-size="36">0.5</text>
<text x="105.78" y="347.80" font-size="36">1</text>
<text x="75.76" y="201.40" font-size="36">1.5</text>
<text x="105.78" y="55.00" font-size="36">2</text>
<text x="141.69" y="676.60" font-size="36">1</text>
<text x="363.18" y="676.60" font-size="36">10</text>
<text x="584.68" y="676.60" font-size="36">100</text>
<text x="806.17" y="676.60" font-size="36">1000</text>
<text x="216.50" y="493.90" font-size="36">a=0</text>
<text x="581.82" y="88.70" font-size="36">α=0.1</text>
<text x="561.80" y="124.50" font-size="36">α=0.03</text>
<text x="561.80" y="160.30" font-size="36">α=0.01</text>
<text x="465.50" y="727.70" font-size="41.1">r/r</text>
<text x="504.30" y="740.10" font-size="32.9">g</text>
<g transform="translate(48.5,441.5) rotate(-90)">
<text x="0.00" y="0.00" font-size="38.6">F</text>
<text x="23.58" y="-19.30" font-size="30.9">-</text>
<text x="33.87" y="11.60" font-size="30.55">neutrinos</text>
<text x="159.53" y="0.00" font-size="38.6">/F</text>
<text x="194.04" y="-15.50" font-size="30.9">+</text>
</g>
</svg></body></html>
